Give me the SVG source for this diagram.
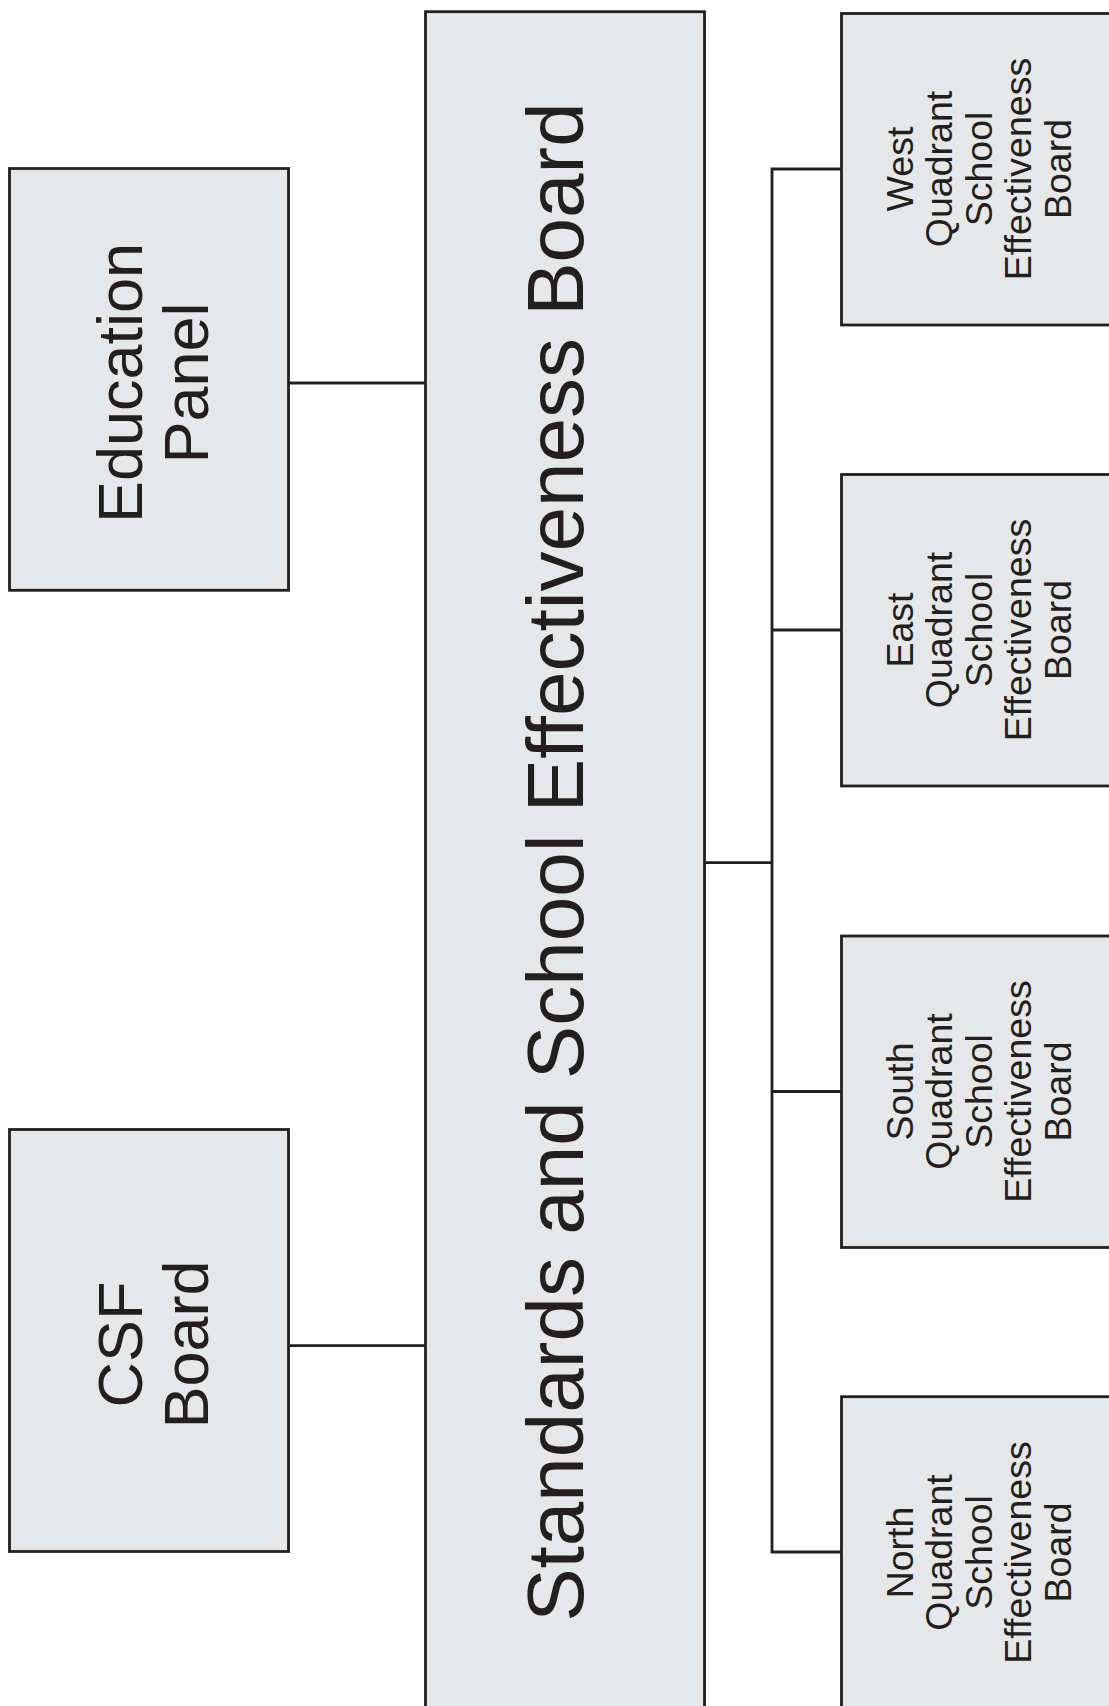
<svg xmlns="http://www.w3.org/2000/svg" width="1109" height="1706" viewBox="0 0 1109 1706">
<style>
.box{fill:#e6e7e8;stroke:#231f20;stroke-width:2.8}
.conn{fill:none;stroke:#231f20;stroke-width:2.8}
text{font-family:"Liberation Sans",Arial,sans-serif;fill:#231f20;text-anchor:middle}
.big{font-size:80px}
.mid{font-size:63px}
.sm{font-size:37.5px}
</style>
<rect width="1109" height="1706" fill="#ffffff"/>
<g id="connectors">
<path class="conn" d="M288.7 383H425.5"/>
<path class="conn" d="M288.7 1345.7H425.5"/>
<path class="conn" d="M704.3 862.7H772"/>
<path class="conn" d="M841.5 169H772V1552H841.5"/>
<path class="conn" d="M772 630H841.5"/>
<path class="conn" d="M772 1091.5H841.5"/>
</g>
<g id="ssef">
<rect class="box" x="425.5" y="11.7" width="279" height="1720"/>
<g transform="translate(0,862) rotate(-90)"><text class="big" x="0" y="583">Standards and School Effectiveness Board</text></g>
</g>
<g id="education-panel">
<rect class="box" x="9.5" y="168.5" width="279" height="421.8"/>
<g transform="translate(0,383) rotate(-90)"><text class="mid" x="0" y="141.7">Education</text><text class="mid" x="0" y="208.3">Panel</text></g>
</g>
<g id="csf-board">
<rect class="box" x="9.5" y="1129.5" width="279" height="422"/>
<g transform="translate(0,1344.5) rotate(-90)"><text class="mid" x="0" y="141.7">CSF</text><text class="mid" x="0" y="208.3">Board</text></g>
</g>
<g id="west">
<rect class="box" x="841.5" y="13.5" width="300" height="311.5"/>
<g transform="translate(0,169) rotate(-90)"><text class="sm" x="0" y="912.5">West</text><text class="sm" x="0" y="952">Quadrant</text><text class="sm" x="0" y="991.5">School</text><text class="sm" x="0" y="1031">Effectiveness</text><text class="sm" x="0" y="1071">Board</text></g>
</g>
<g id="east">
<rect class="box" x="841.5" y="474.5" width="300" height="311.5"/>
<g transform="translate(0,630) rotate(-90)"><text class="sm" x="0" y="912.5">East</text><text class="sm" x="0" y="952">Quadrant</text><text class="sm" x="0" y="991.5">School</text><text class="sm" x="0" y="1031">Effectiveness</text><text class="sm" x="0" y="1071">Board</text></g>
</g>
<g id="south">
<rect class="box" x="841.5" y="936" width="300" height="311.5"/>
<g transform="translate(0,1091.5) rotate(-90)"><text class="sm" x="0" y="912.5">South</text><text class="sm" x="0" y="952">Quadrant</text><text class="sm" x="0" y="991.5">School</text><text class="sm" x="0" y="1031">Effectiveness</text><text class="sm" x="0" y="1071">Board</text></g>
</g>
<g id="north">
<rect class="box" x="841.5" y="1396.7" width="300" height="311.5"/>
<g transform="translate(0,1552.5) rotate(-90)"><text class="sm" x="0" y="912.5">North</text><text class="sm" x="0" y="952">Quadrant</text><text class="sm" x="0" y="991.5">School</text><text class="sm" x="0" y="1031">Effectiveness</text><text class="sm" x="0" y="1071">Board</text></g>
</g>
</svg>
